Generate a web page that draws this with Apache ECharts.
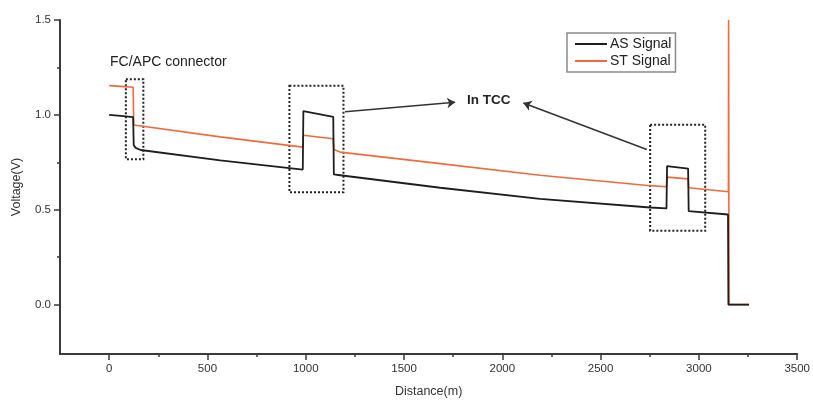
<!DOCTYPE html>
<html>
<head>
<meta charset="utf-8">
<script src="https://cdn.jsdelivr.net/npm/echarts@6/dist/echarts.min.js"></script>
<style>
html,body{margin:0;padding:0;background:#fff;}
#chart{width:813px;height:403px;}
</style>
</head>
<body>
<div id="chart"></div>
<script>
// Distance (m) / Voltage (V) pairs
const asDistance = [0, 60, 122, 125, 135, 160, 565, 985, 988, 1140, 1143, 1175, 1684, 2192, 2752, 2835, 2838, 2945, 2948, 3148, 3150, 3255];
const asVoltage  = [1.0, 0.995, 0.988, 0.84, 0.826, 0.815, 0.76, 0.712, 1.02, 0.99, 0.686, 0.682, 0.616, 0.557, 0.512, 0.507, 0.73, 0.717, 0.493, 0.475, 0.0, 0.0];
const stDistance = [0, 60, 122, 125, 565, 985, 988, 1140, 1143, 1175, 1684, 2192, 2752, 2835, 2838, 2945, 2948, 3150, 3151, 3153, 3255];
const stVoltage  = [1.154, 1.15, 1.146, 0.947, 0.884, 0.83, 0.893, 0.874, 0.817, 0.804, 0.743, 0.682, 0.627, 0.621, 0.672, 0.663, 0.616, 0.595, 1.5, 0.0, 0.0];

const seriesNames = ['AS Signal', 'ST Signal'];
const xMajorTicks = [0, 500, 1000, 1500, 2000, 2500, 3000, 3500];
const xMinorTicks = [250, 750, 1250, 1750, 2250, 2750, 3250];
const yMajorTicks = [0, 0.5, 1.0, 1.5];
const yMinorTicks = [0.25, 0.75, 1.25];

// annotation boxes [x1, y1, x2, y2] in data units
const boxes = [
  [85, 1.188, 174, 0.766],
  [917, 1.153, 1192, 0.592],
  [2752, 0.948, 3032, 0.389]
];
// annotation arrows [fromX, fromY, toX, toY] in data units
const arrows = [
  [1200, 1.017, 1760, 1.066],
  [2735, 0.818, 2107, 1.063]
];

const zip = (a, b) => a.map((v, i) => [v, b[i]]);
const font = '"Liberation Sans", Arial, sans-serif';
const axisColor = '#3a3a3a';
const labelColor = '#333';

const chart = echarts.init(document.getElementById('chart'), null, {renderer: 'canvas'});
chart.setOption({
  animation: false,
  backgroundColor: '#fff',
  grid: {left: 60, right: 15, top: 20, bottom: 46},
  legend: {
    orient: 'vertical',
    left: 567, top: 33,
    padding: [4, 4, 4, 8],
    itemGap: 3,
    itemWidth: 32, itemHeight: 2,
    icon: 'rect',
    borderColor: '#8a8a8a', borderWidth: 1.5,
    data: seriesNames,
    textStyle: {fontFamily: font, fontSize: 14, color: '#222', padding: [0, 0, 0, -2]}
  },
  xAxis: [{
    type: 'value', min: -250, max: 3500,
    name: 'Distance(m)', nameLocation: 'middle', nameGap: 31,
    nameTextStyle: {fontFamily: font, fontSize: 12.5, color: labelColor},
    axisLine: {show: true, onZero: false, lineStyle: {color: axisColor, width: 2}},
    axisTick: {show: true, inside: false, length: 6, customValues: xMajorTicks, lineStyle: {color: axisColor, width: 1.5}},
    axisLabel: {customValues: xMajorTicks, margin: 9, fontFamily: font, fontSize: 11.5, color: labelColor,
      formatter: v => String(v)},
    splitLine: {show: false}
  }, {
    type: 'value', min: -250, max: 3500, position: 'bottom',
    axisLine: {show: false, onZero: false},
    axisTick: {show: true, length: 3, customValues: xMinorTicks, lineStyle: {color: axisColor, width: 1.5}},
    axisLabel: {show: false},
    splitLine: {show: false}
  }],
  yAxis: [{
    type: 'value', min: -0.26, max: 1.5,
    name: 'Voltage(V)', nameLocation: 'middle', nameGap: 37,
    nameTextStyle: {fontFamily: font, fontSize: 12.5, color: labelColor},
    axisLine: {show: true, onZero: false, lineStyle: {color: axisColor, width: 2}},
    axisTick: {show: true, length: 6, customValues: yMajorTicks, lineStyle: {color: axisColor, width: 1.5}},
    axisLabel: {customValues: yMajorTicks, margin: 9, fontFamily: font, fontSize: 11.5, color: labelColor,
      formatter: v => v.toFixed(1)},
    splitLine: {show: false}
  }, {
    type: 'value', min: -0.26, max: 1.5, position: 'left',
    axisLine: {show: false, onZero: false},
    axisTick: {show: true, length: 3, customValues: yMinorTicks, lineStyle: {color: axisColor, width: 1.5}},
    axisLabel: {show: false},
    splitLine: {show: false}
  }],
  graphic: [
    {type: 'text', left: 110, top: 55, style: {text: 'FC/APC connector', font: '14px ' + font, fill: '#222'}},
    {type: 'text', left: 467, top: 93, style: {text: 'In TCC', font: 'bold 13.5px ' + font, fill: '#222'}}
  ],
  series: [{
    name: 'AS Signal', type: 'line', xAxisIndex: 0, yAxisIndex: 0,
    data: zip(asDistance, asVoltage),
    symbol: 'none', showSymbol: false,
    itemStyle: {color: '#1e1e1e'},
    lineStyle: {color: '#1e1e1e', width: 1.8},
    z: 3,
    markArea: {
      silent: true,
      itemStyle: {color: 'rgba(0,0,0,0)', borderColor: '#222', borderWidth: 2, borderType: [2, 2]},
      data: boxes.map(b => [{coord: [b[0], b[1]]}, {coord: [b[2], b[3]]}])
    },
    markLine: {
      silent: true,
      symbol: ['none', 'arrow'],
      symbolSize: 8,
      label: {show: false},
      lineStyle: {color: '#333', width: 1.5, type: 'solid'},
      data: arrows.map(a => [{coord: [a[0], a[1]]}, {coord: [a[2], a[3]]}])
    }
  }, {
    name: 'ST Signal', type: 'line', xAxisIndex: 0, yAxisIndex: 0,
    data: zip(stDistance, stVoltage),
    symbol: 'none', showSymbol: false,
    itemStyle: {color: '#f26a3c'},
    lineStyle: {color: '#f26a3c', width: 1.6},
    z: 2
  }]
});
</script>
</body>
</html>
